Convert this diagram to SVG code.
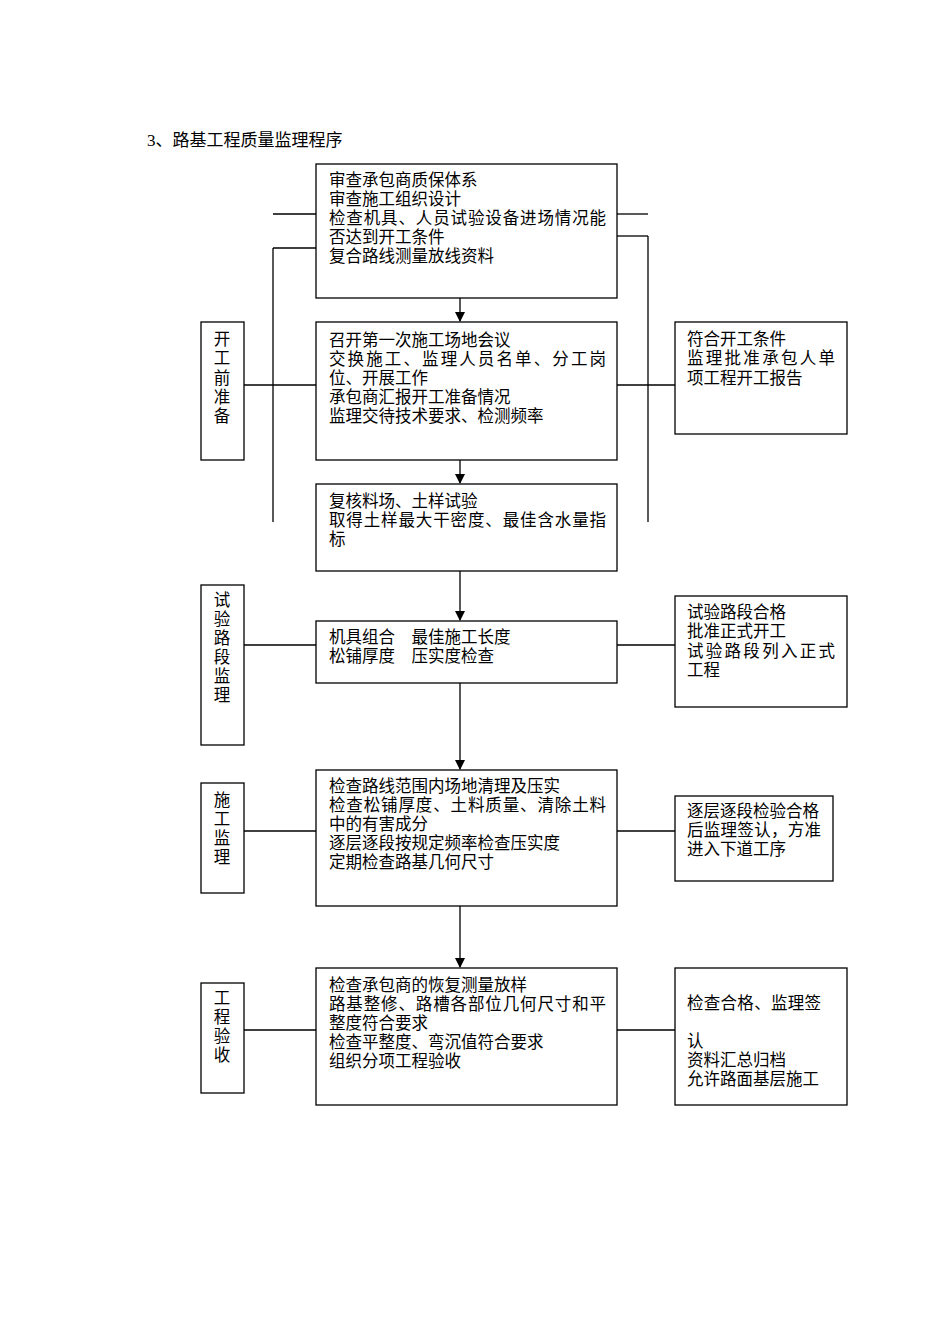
<svg xmlns="http://www.w3.org/2000/svg" width="950" height="1344" viewBox="0 0 950 1344">
<defs>
<marker id="ah" markerWidth="10" markerHeight="10" refX="9" refY="5" orient="auto" markerUnits="userSpaceOnUse"><path d="M0,0 L10,5 L0,10 z" fill="#000"/></marker>
</defs>
<style>
rect{fill:#fff;stroke:#000;stroke-width:1.3}
text{font-family:"Liberation Serif","Noto Sans CJK SC",serif;font-size:16.5px;fill:#000}
.c line{stroke:#000;stroke-width:1.3}
.v{text-anchor:middle}
</style>
<rect width="950" height="1344" style="stroke:none"/>
<text x="147" y="146" style="font-size:17px">3、路基工程质量监理程序</text>
<g class="c">
<line x1="460" y1="298" x2="460" y2="321" marker-end="url(#ah)"/>
<line x1="460" y1="460" x2="460" y2="483" marker-end="url(#ah)"/>
<line x1="460" y1="571" x2="460" y2="620" marker-end="url(#ah)"/>
<line x1="460" y1="683" x2="460" y2="769" marker-end="url(#ah)"/>
<line x1="460" y1="906" x2="460" y2="967" marker-end="url(#ah)"/>
<line x1="273" y1="214" x2="316" y2="214"/>
<line x1="273" y1="248" x2="316" y2="248"/>
<line x1="273" y1="248" x2="273" y2="522"/>
<line x1="244" y1="385" x2="316" y2="385"/>
<line x1="617" y1="214" x2="648" y2="214"/>
<line x1="617" y1="236" x2="648" y2="236"/>
<line x1="648" y1="236" x2="648" y2="522"/>
<line x1="617" y1="385" x2="675" y2="385"/>
<line x1="244" y1="645" x2="316" y2="645"/>
<line x1="617" y1="645" x2="675" y2="645"/>
<line x1="244" y1="831" x2="316" y2="831"/>
<line x1="617" y1="831" x2="675" y2="831"/>
<line x1="244" y1="1030" x2="316" y2="1030"/>
<line x1="617" y1="1030" x2="675" y2="1030"/>
</g>
<g id="n1"><rect x="316" y="164" width="301" height="134"/>
<text x="329" y="186">审查承包商质保体系</text><text x="329" y="205">审查施工组织设计</text><text x="329" y="224" textLength="277">检查机具、人员试验设备进场情况能</text><text x="329" y="243">否达到开工条件</text><text x="329" y="262">复合路线测量放线资料</text></g>
<g id="n2"><rect x="316" y="322" width="301" height="138"/>
<text x="329" y="346">召开第一次施工场地会议</text><text x="329" y="365" textLength="277">交换施工、监理人员名单、分工岗</text><text x="329" y="384">位、开展工作</text><text x="329" y="403">承包商汇报开工准备情况</text><text x="329" y="422">监理交待技术要求、检测频率</text></g>
<g id="n3"><rect x="316" y="484" width="301" height="87"/>
<text x="329" y="507">复核料场、土样试验</text><text x="329" y="526" textLength="277">取得土样最大干密度、最佳含水量指</text><text x="329" y="545">标</text></g>
<g id="n4"><rect x="316" y="621" width="301" height="62"/>
<text x="329" y="643" xml:space="preserve">机具组合　最佳施工长度</text><text x="329" y="662" xml:space="preserve">松铺厚度　压实度检查</text></g>
<g id="n5"><rect x="316" y="770" width="301" height="136"/>
<text x="329" y="792">检查路线范围内场地清理及压实</text><text x="329" y="811" textLength="277">检查松铺厚度、土料质量、清除土料</text><text x="329" y="830">中的有害成分</text><text x="329" y="849">逐层逐段按规定频率检查压实度</text><text x="329" y="868">定期检查路基几何尺寸</text></g>
<g id="n6"><rect x="316" y="968" width="301" height="137"/>
<text x="329" y="991">检查承包商的恢复测量放样</text><text x="329" y="1010" textLength="277">路基整修、路槽各部位几何尺寸和平</text><text x="329" y="1029">整度符合要求</text><text x="329" y="1048">检查平整度、弯沉值符合要求</text><text x="329" y="1067">组织分项工程验收</text></g>
<g id="l1"><rect x="201" y="322" width="43" height="138"/>
<text class="v" x="222" y="345">开</text><text class="v" x="222" y="364">工</text><text class="v" x="222" y="384">前</text><text class="v" x="222" y="403">准</text><text class="v" x="222" y="422">备</text></g>
<g id="l2"><rect x="201" y="585" width="43" height="160"/>
<text class="v" x="222" y="606">试</text><text class="v" x="222" y="625">验</text><text class="v" x="222" y="644">路</text><text class="v" x="222" y="663">段</text><text class="v" x="222" y="682">监</text><text class="v" x="222" y="701">理</text></g>
<g id="l3"><rect x="201" y="783" width="43" height="110"/>
<text class="v" x="222" y="806">施</text><text class="v" x="222" y="825">工</text><text class="v" x="222" y="844">监</text><text class="v" x="222" y="863">理</text></g>
<g id="l4"><rect x="201" y="983" width="43" height="110"/>
<text class="v" x="222" y="1004">工</text><text class="v" x="222" y="1023">程</text><text class="v" x="222" y="1042">验</text><text class="v" x="222" y="1061">收</text></g>
<g id="r1"><rect x="675" y="322" width="172" height="112"/>
<text x="687" y="345">符合开工条件</text><text x="687" y="364" textLength="148">监理批准承包人单</text><text x="687" y="384">项工程开工报告</text></g>
<g id="r2"><rect x="675" y="596" width="172" height="111"/>
<text x="687" y="618">试验路段合格</text><text x="687" y="637">批准正式开工</text><text x="687" y="657" textLength="148">试验路段列入正式</text><text x="687" y="676">工程</text></g>
<g id="r3"><rect x="675" y="796" width="158" height="85"/>
<text x="687" y="817">逐层逐段检验合格</text><text x="687" y="836" textLength="134">后监理签认，方准</text><text x="687" y="855">进入下道工序</text></g>
<g id="r4"><rect x="675" y="968" width="172" height="137"/>
<text x="687" y="1009" textLength="134">检查合格、监理签</text><text x="687" y="1047">认</text><text x="687" y="1066">资料汇总归档</text><text x="687" y="1085">允许路面基层施工</text></g>
</svg>
